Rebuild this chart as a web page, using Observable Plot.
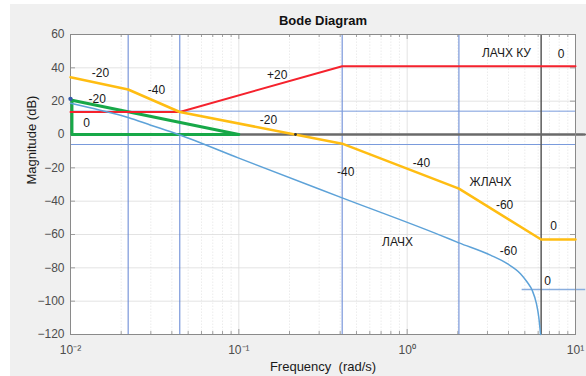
<!DOCTYPE html>
<html><head><meta charset="utf-8">
<script src="https://cdn.jsdelivr.net/npm/d3@7"></script>
<script src="https://cdn.jsdelivr.net/npm/@observablehq/plot@0.6"></script>
<style>
body{margin:0;background:#fff;}
#chart{position:absolute;left:10px;top:4px;}
</style></head><body><div id="chart"></div>
<script>
// ---- data ----
const freqTicks = [0.01, 0.1, 1, 10];
const freqTickLabels = ["10⁻²", "10⁻¹", "10⁰", "10¹"];
const magTicks = [60, 40, 20, 0, -20, -40, -60, -80, -100, -120];

// ЛАЧХ (actual magnitude curve)
const lachW  = [0.01, 0.015, 0.022, 0.03, 0.0438, 0.1, 0.411, 1.578, 2.03, 3.126, 3.93, 4.71, 5.16, 5.53, 5.86, 6.05, 6.2];
const lachDb = [18.8, 14.6, 10.2, 5.6, 0, -14.2, -38, -60.5, -65, -72.4, -77.5, -83.5, -88.5, -93.5, -101.5, -109.5, -120];

// ЖЛАЧХ (desired asymptotic)
const zhW  = [0.01, 0.022, 0.0446, 0.411, 2.03, 6.25, 10];
const zhDb = [34.4, 27, 13.5, -5.5, -32.5, -63, -63];

// ЛАЧХ КУ (corrector)
const kuW  = [0.01, 0.0446, 0.411, 10];
const kuDb = [13.5, 13.5, 41, 41];

// green triangle
const grW  = [0.0102, 0.0102, 0.1, 0.0102];
const grDb = [0, 20.5, 0, 0];

// guide lines
const vGuideW = [0.022, 0.0446, 0.411, 2.03];
const vDarkW = [6.25];
const hGuideDb = [14, -6];
const lowGuide = {w1: 4.82, w2: 11.5, db: -93};
const startDot = {w: 0.01, db: 21.4};
const crossDot = {w: 0.217, db: 0};

// annotations
const labelText = ["-20", "-40", "-20", "0", "+20", "-20", "ЛАЧХ КУ", "0", "-40", "-40", "ЖЛАЧХ", "-60", "0", "ЛАЧХ", "-60", "0"];
const labelW    = [0.01507, 0.0324, 0.0144, 0.01245, 0.169, 0.15, 3.89, 8.22, 0.431, 1.216, 3.13, 3.79, 7.40, 0.877, 4.0, 6.82];
const labelDb   = [36.8, 26.6, 21.2, 6.8, 35.4, 8.6, 48.8, 48.2, -22.6, -17.1, -28.5, -42.5, -55, -64.5, -69.9, -88.1];

// ---- build ----
const zip = (a, b) => a.map((v, i) => ({w: v, db: b[i]}));
const lach = zip(lachW, lachDb);
const zh = zip(zhW, zhDb);
const ku = zip(kuW, kuDb);
const gr = zip(grW, grDb);
const labels = labelText.map((t, i) => ({t, w: labelW[i], db: labelDb[i]}));

const minorW = [];
for (const dec of [0.01, 0.1, 1]) for (let k = 2; k <= 9; k++) minorW.push(dec * k);
const majorGridW = [0.1, 1];
const gridDb = magTicks.filter(d => d > -120 && d < 60);

const gx = 10 ** (5 / 168.33);
const font = "'Liberation Sans', Arial, Helvetica, sans-serif";

const chart = Plot.plot({
  width: 576, height: 372,
  marginLeft: 60, marginRight: 11, marginTop: 30, marginBottom: 42,
  style: {background: "#f0f0f0", fontFamily: font, fontSize: "12px", overflow: "visible"},
  x: {type: "log", domain: [0.01, 10]},
  y: {domain: [-120, 60]},
  marks: [
    Plot.frame({fill: "white", stroke: null}),
    // grid
    Plot.ruleX(minorW, {x: d => d, y1: -120, y2: 60, stroke: "#e4e4e4", strokeWidth: 0.7, strokeDasharray: "1.5,1.5"}),
    Plot.ruleX(majorGridW, {x: d => d, y1: -120, y2: 60, stroke: "#dcdcdc", strokeWidth: 0.8}),
    Plot.ruleY(gridDb, {y: d => d, x1: 0.01, x2: 10, stroke: "#dcdcdc", strokeWidth: 0.8}),
    // inward ticks
    Plot.ruleX(minorW, {x: d => d, y1: -120, y2: -118.2, stroke: "#8a8a8a", strokeWidth: 0.8}),
    Plot.ruleX(minorW, {x: d => d, y1: 60, y2: 58.2, stroke: "#8a8a8a", strokeWidth: 0.8}),
    Plot.ruleX(freqTicks, {x: d => d, y1: -120, y2: -117, stroke: "#8a8a8a", strokeWidth: 0.8}),
    Plot.ruleX(freqTicks, {x: d => d, y1: 60, y2: 57, stroke: "#8a8a8a", strokeWidth: 0.8}),
    Plot.ruleY(magTicks, {y: d => d, x1: 0.01, x2: 0.01 * gx, stroke: "#8a8a8a", strokeWidth: 0.8}),
    Plot.ruleY(magTicks, {y: d => d, x1: 10 / gx, x2: 10, stroke: "#8a8a8a", strokeWidth: 0.8}),
    // guides
    Plot.ruleX(vGuideW, {x: d => d, y1: -120, y2: 60, stroke: "#5f82d3", strokeWidth: 1}),
    Plot.ruleY(hGuideDb, {y: d => d, x1: 0.01, x2: 10, stroke: "#7a9bdc", strokeWidth: 1}),
    Plot.ruleY([lowGuide], {y: "db", x1: "w1", x2: "w2", stroke: "#8aaede", strokeWidth: 1.5}),
    Plot.ruleX(vDarkW, {x: d => d, y1: -120, y2: 60, stroke: "#5a5a5a", strokeWidth: 1.5}),
    Plot.ruleY([0], {y: d => d, x1: 0.01, x2: 11.3, stroke: "#6a6a6a", strokeWidth: 2.6}),
    Plot.arrow([0], {x1: 10.9, x2: 11.5, y1: 0, y2: 0, stroke: "#6a6a6a", strokeWidth: 1.2, headLength: 6}),
    Plot.frame({stroke: "#8a8a8a", strokeWidth: 1}),
    // curves
    Plot.line(gr, {x: "w", y: "db", stroke: "#17a848", strokeWidth: 3}),
    Plot.line(ku, {x: "w", y: "db", stroke: "#f5222d", strokeWidth: 2}),
    Plot.line(zh, {x: "w", y: "db", stroke: "#ffbd12", strokeWidth: 2.5}),
    Plot.line(lach, {x: "w", y: "db", stroke: "#5da2d8", strokeWidth: 1.5, curve: "monotone-x"}),
    Plot.dot([startDot], {x: "w", y: "db", r: 2.2, fill: "#3559a8", stroke: null}),
    Plot.dot([crossDot], {x: "w", y: "db", r: 1.4, fill: "#333", stroke: null}),
    // labels
    Plot.text(labels, {x: "w", y: "db", text: "t", fontSize: 12, fill: "#1a1a1a"}),
    // axes
    Plot.axisX({ticks: freqTicks, tickFormat: d => freqTickLabels[freqTicks.indexOf(d)], tickSize: 0, tickPadding: 11, label: null, fill: "#4d4d4d", fontSize: 12}),
    Plot.axisY({ticks: magTicks, tickSize: 0, tickPadding: 6, label: null, fill: "#4d4d4d", fontSize: 12}),
    Plot.text(["Frequency  (rad/s)"], {frameAnchor: "bottom", dy: 36, fontSize: 13, fill: "#1a1a1a"}),
    Plot.text(["Magnitude (dB)"], {frameAnchor: "left", dx: -39, rotate: -90, fontSize: 13, fill: "#1a1a1a"}),
    Plot.text(["Bode Diagram"], {frameAnchor: "top", dy: -19, fontSize: 13, fontWeight: "bold", fill: "#111"})
  ]
});
document.getElementById("chart").appendChild(chart);
</script></body></html>
